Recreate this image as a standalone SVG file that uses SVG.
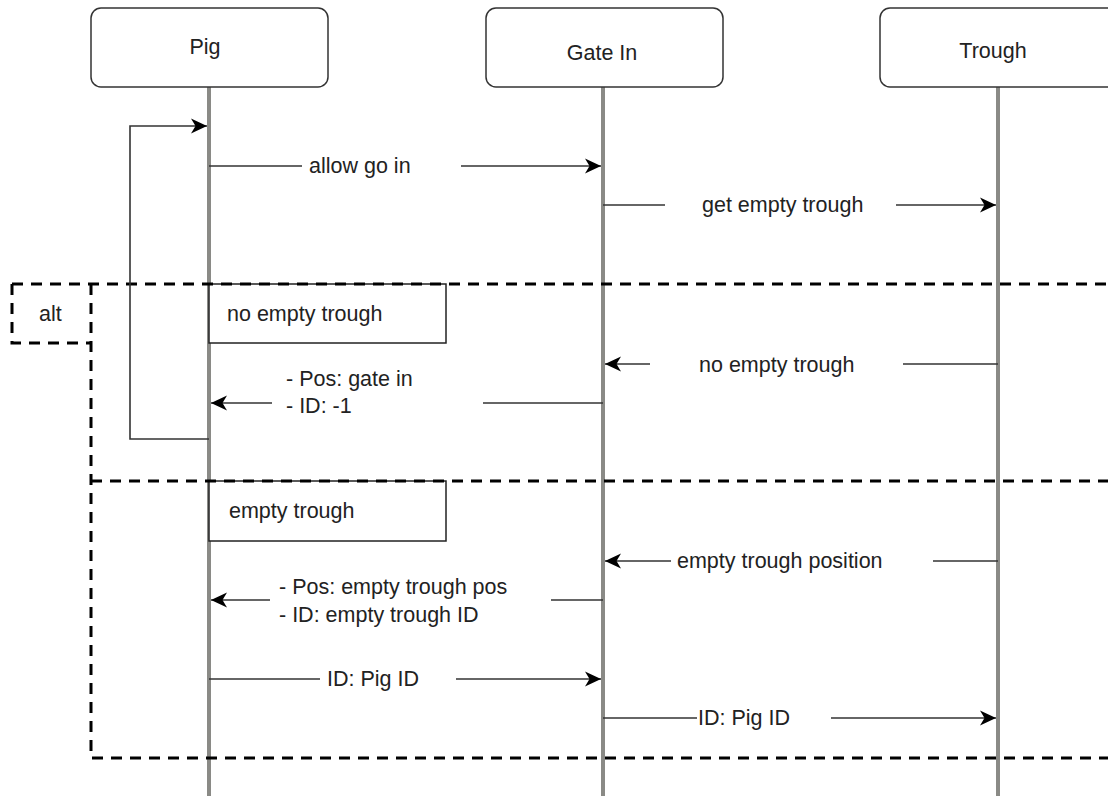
<svg xmlns="http://www.w3.org/2000/svg" width="1108" height="796" viewBox="0 0 1108 796">
<style>
text{font-family:"Liberation Sans",Arial,sans-serif;font-size:21.5px;fill:#222}
.hd{fill:#fff;stroke:#333;stroke-width:1.5}
.life{stroke:#8a8a86;stroke-width:4}
.msg{stroke:#333;stroke-width:1.6;fill:none}
.dash{stroke:#000;stroke-width:3;stroke-dasharray:11 8;fill:none}
.lbl{fill:#fff;stroke:#222;stroke-width:1.5}
</style>
<defs>
<marker id="ah" markerUnits="userSpaceOnUse" markerWidth="17" markerHeight="16" refX="16" refY="8" orient="auto">
<path d="M0,0.5 L16,8 L0,15.5 L4.5,8 Z" fill="#000"/>
</marker>
</defs>
<g id="lifelines">
<line class="life" x1="209" y1="87" x2="209" y2="796"/>
<line class="life" x1="603" y1="87" x2="603" y2="796"/>
<line class="life" x1="998" y1="87" x2="998" y2="796"/>
</g>
<g id="pig"><rect class="hd" x="91" y="8" width="237" height="79" rx="10"/><text x="205" y="54" text-anchor="middle">Pig</text></g>
<g id="gate"><rect class="hd" x="486" y="8" width="237" height="79" rx="10"/><text x="602" y="60" text-anchor="middle">Gate In</text></g>
<g id="trough"><rect class="hd" x="880" y="8" width="240" height="79" rx="10"/><text x="993" y="58" text-anchor="middle">Trough</text></g>
<g id="case1"><rect class="lbl" x="209" y="284" width="237" height="59"/><text x="227" y="321">no empty trough</text></g>
<g id="case2"><rect class="lbl" x="209" y="481" width="237" height="60"/><text x="229" y="518">empty trough</text></g>
<g id="alt-frame">
<path class="dash" d="M12,284 H1108 M12,284 V343 H91 M91,284 V758 H1108 M91,481 H1108"/>
<text x="39" y="321">alt</text>
</g>
<g id="connectors">
<polyline class="msg" points="209,439 130,439 130,126 207,126" marker-end="url(#ah)"/>
<line class="msg" x1="209" y1="166" x2="302" y2="166"/>
<line class="msg" x1="461" y1="166" x2="601" y2="166" marker-end="url(#ah)"/>
<text x="309" y="173">allow go in</text>
<line class="msg" x1="603" y1="205" x2="665" y2="205"/>
<line class="msg" x1="896" y1="205" x2="996" y2="205" marker-end="url(#ah)"/>
<text x="702" y="212">get empty trough</text>
<line class="msg" x1="998" y1="364" x2="903" y2="364"/>
<line class="msg" x1="650" y1="364" x2="605" y2="364" marker-end="url(#ah)"/>
<text x="699" y="372">no empty trough</text>
<line class="msg" x1="603" y1="403" x2="483" y2="403"/>
<line class="msg" x1="272" y1="403" x2="211" y2="403" marker-end="url(#ah)"/>
<text x="286" y="386">- Pos: gate in</text>
<text x="286" y="413">- ID: -1</text>
<line class="msg" x1="998" y1="561" x2="933" y2="561"/>
<line class="msg" x1="671" y1="561" x2="605" y2="561" marker-end="url(#ah)"/>
<text x="677" y="568">empty trough position</text>
<line class="msg" x1="603" y1="600" x2="551" y2="600"/>
<line class="msg" x1="270" y1="600" x2="211" y2="600" marker-end="url(#ah)"/>
<text x="279" y="594">- Pos: empty trough pos</text>
<text x="279" y="622">- ID: empty trough ID</text>
<line class="msg" x1="209" y1="679" x2="320" y2="679"/>
<line class="msg" x1="456" y1="679" x2="601" y2="679" marker-end="url(#ah)"/>
<text x="327" y="686">ID: Pig ID</text>
<line class="msg" x1="603" y1="718" x2="697" y2="718"/>
<line class="msg" x1="831" y1="718" x2="996" y2="718" marker-end="url(#ah)"/>
<text x="698" y="725">ID: Pig ID</text>
</g>
</svg>
